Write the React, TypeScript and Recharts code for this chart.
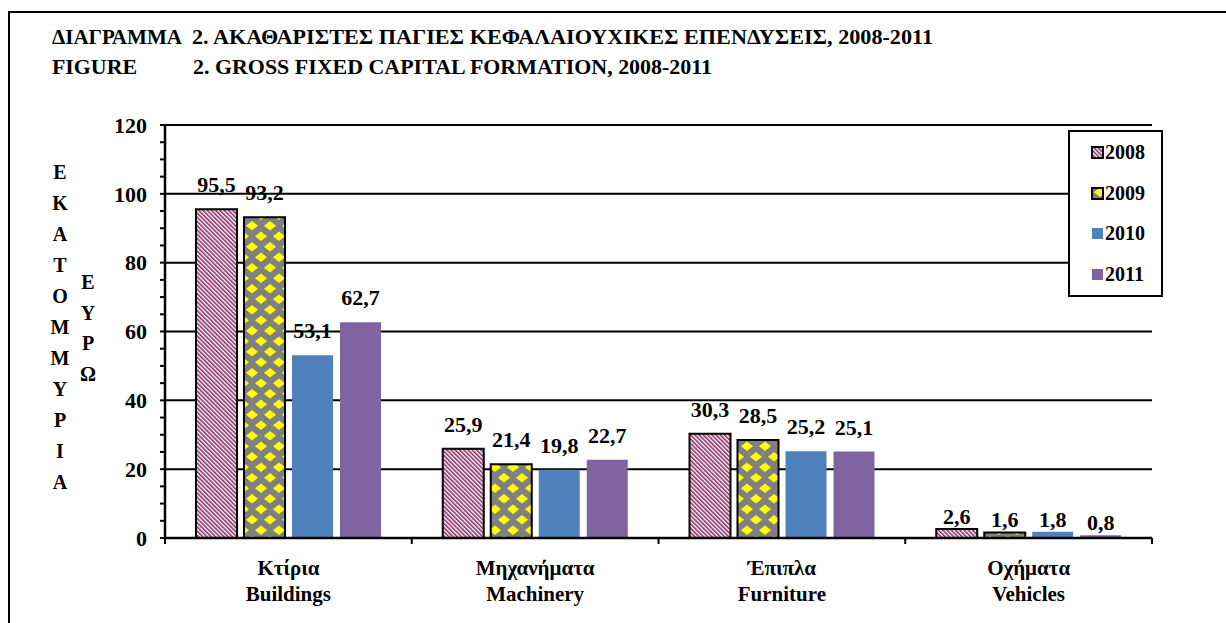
import React from 'react';
import {
  BarChart,
  Bar,
  XAxis,
  YAxis,
  CartesianGrid,
  Legend,
  LabelList,
} from 'recharts';

const FONT = "'Liberation Serif', Tinos, 'Times New Roman', 'DejaVu Serif', serif";

// chart data
const categoriesEl = ['Κτίρια', 'Μηχανήματα', 'Έπιπλα', 'Οχήματα'];
const categoriesEn = ['Buildings', 'Machinery', 'Furniture', 'Vehicles'];
const years = ['2008', '2009', '2010', '2011'];
const values2008 = [95.5, 25.9, 30.3, 2.6];
const values2009 = [93.2, 21.4, 28.5, 1.6];
const values2010 = [53.1, 19.8, 25.2, 1.8];
const values2011 = [62.7, 22.7, 25.1, 0.8];
const yTicks = [0, 5, 10, 15, 20, 25, 30, 35, 40, 45, 50, 55, 60, 65, 70, 75, 80, 85, 90, 95, 100, 105, 110, 115, 120];
const yLabelTicks = [0, 20, 40, 60, 80, 100, 120];
const gridValues = [20, 40, 60, 80, 100, 120];
const yTitleMain = 'ΕΚΑΤΟΜΜΥΡΙΑ';
const yTitleSub = 'ΕΥΡΩ';

const seriesFills = ['url(#pat2008)', 'url(#pat2009)', '#4F81BD', '#8064A2'];
const seriesStroke = ['#000', '#000', 'none', 'none'];

const data = categoriesEl.map((name, i) => ({
  name,
  y2008: values2008[i],
  y2009: values2009[i],
  y2010: values2010[i],
  y2011: values2011[i],
}));

const fmt = (v: any) => Number(v).toFixed(1).replace('.', ',');

// value label above a bar; the small Vehicles bars carry their labels closer
const ValueLabel = (props: any) => {
  const { x, y, width, value, index } = props;
  const gap = index === 3 ? 5 : 17;
  return (
    <text
      x={x + width / 2}
      y={y - gap}
      textAnchor="middle"
      fontFamily={FONT}
      fontWeight="bold"
      fontSize={22}
      fill="#000"
    >
      {fmt(value)}
    </text>
  );
};

const YTick = (props: any) => {
  const { x, y, payload } = props;
  if (!yLabelTicks.includes(payload.value)) return <g />;
  return (
    <text x={x} y={y} dy="0.35em" textAnchor="end" fontFamily={FONT} fontWeight="bold" fontSize={22} fill="#000">
      {payload.value}
    </text>
  );
};

const XTick = (props: any) => {
  const { x, y, payload, index, width, visibleTicksCount } = props;
  const band = width / visibleTicksCount;
  return (
    <g>
      <line x1={x - band / 2} x2={x - band / 2} y1={y} y2={y + 6} stroke="#000" strokeWidth={2} />
      {index === visibleTicksCount - 1 && (
        <line x1={x + band / 2} x2={x + band / 2} y1={y} y2={y + 6} stroke="#000" strokeWidth={2} />
      )}
      <text x={x} y={y + 37} textAnchor="middle" fontFamily={FONT} fontWeight="bold" fontSize={21} fill="#000">
        {payload.value}
      </text>
      <text x={x} y={y + 63} textAnchor="middle" fontFamily={FONT} fontWeight="bold" fontSize={21} fill="#000">
        {categoriesEn[index]}
      </text>
    </g>
  );
};

const LegendBox = () => (
  <div
    style={{
      width: 95,
      height: 167,
      boxSizing: 'border-box',
      border: '2px solid #000',
      background: '#fff',
      display: 'flex',
      flexDirection: 'column',
      justifyContent: 'space-around',
      paddingLeft: 21,
    }}
  >
    {years.map((yr, i) => (
      <div key={yr} style={{ display: 'flex', alignItems: 'center', height: 24 }}>
        <svg width={13} height={13} style={{ marginRight: 1 }}>
          <rect
            x={1}
            y={1}
            width={11}
            height={11}
            fill={seriesFills[i]}
            stroke={seriesStroke[i]}
            strokeWidth={2}
          />
        </svg>
        <span style={{ fontFamily: FONT, fontWeight: 'bold', fontSize: 20, color: '#000' }}>{yr}</span>
      </div>
    ))}
  </div>
);

const letterColumn = (word: string, left: number, top: number, step: number) => (
  <div style={{ position: 'absolute', left: left - 15, top, width: 30 }}>
    {word.split('').map((ch, i) => (
      <div
        key={i}
        style={{
          height: step,
          lineHeight: `${step}px`,
          textAlign: 'center',
          fontFamily: FONT,
          fontWeight: 'bold',
          fontSize: 20,
        }}
      >
        {ch}
      </div>
    ))}
  </div>
);

export default function App() {
  return (
    <div
      style={{
        position: 'absolute',
        left: 0,
        top: 0,
        width: 1226,
        height: 623,
        background: '#fff',
        overflow: 'hidden',
        fontFamily: FONT,
      }}
    >
      {/* outer frame */}
      <div
        style={{
          position: 'absolute',
          left: 8,
          top: 11,
          width: 1400,
          height: 800,
          border: '2px solid #000',
        }}
      />

      <svg width={1226} height={90} style={{ position: 'absolute', left: 0, top: 0 }}>
        <g fontFamily={FONT} fontWeight="bold" fontSize={20} fill="#000">
          <text x={52} y={44} textLength={130} lengthAdjust="spacingAndGlyphs">ΔΙΑΓΡΑΜΜΑ</text>
          <text x={192} y={44} textLength={741} lengthAdjust="spacingAndGlyphs">
            2. ΑΚΑΘΑΡΙΣΤΕΣ ΠΑΓΙΕΣ ΚΕΦΑΛΑΙΟΥΧΙΚΕΣ ΕΠΕΝΔΥΣΕΙΣ, 2008-2011
          </text>
          <text x={52} y={74} textLength={85} lengthAdjust="spacingAndGlyphs">FIGURE</text>
          <text x={193} y={74} textLength={519} lengthAdjust="spacingAndGlyphs">
            2. GROSS FIXED CAPITAL FORMATION, 2008-2011
          </text>
        </g>
      </svg>

      {letterColumn(yTitleMain, 60, 156.5, 31)}
      {letterColumn(yTitleSub, 88, 267, 30.5)}

      <div style={{ position: 'absolute', left: 0, top: 0 }}>
        <BarChart
          width={1226}
          height={623}
          data={data}
          margin={{ top: 125, right: 74, bottom: 0, left: 0 }}
          barSize={41}
          barGap={7}
        >
          <defs>
            <pattern
              id="pat2008"
              patternUnits="userSpaceOnUse"
              width={3}
              height={3}
              patternTransform="rotate(-45)"
            >
              <rect width={3} height={3} fill="#fff" />
              <rect width={1.6} height={3} fill="#8A2D68" />
            </pattern>
            <pattern id="pat2009" patternUnits="userSpaceOnUse" width={18} height={21}>
              <rect width={18} height={21} fill="#808080" />
              <polygon points="9,0.5 15,5.25 9,10 3,5.25" fill="#FFFF00" />
              <polygon points="0,11 6,15.75 0,20.5 -6,15.75" fill="#FFFF00" />
              <polygon points="18,11 24,15.75 18,20.5 12,15.75" fill="#FFFF00" />
            </pattern>
          </defs>
          <CartesianGrid
            horizontal
            vertical={false}
            horizontalValues={gridValues}
            stroke="#000"
            strokeWidth={2}
            strokeOpacity={1}
          />
          <XAxis
            dataKey="name"
            height={85}
            tickSize={0}
            tickMargin={0}
            tickLine={false}
            axisLine={{ stroke: '#000', strokeWidth: 2.5 }}
            tick={<XTick />}
            interval={0}
          />
          <YAxis
            width={165}
            domain={[0, 120]}
            ticks={yTicks}
            interval={0}
            tickSize={5}
            tickMargin={13}
            tickLine={{ stroke: '#000', strokeWidth: 2 }}
            axisLine={{ stroke: '#000', strokeWidth: 2.5 }}
            tick={<YTick />}
          />
          <YAxis
            yAxisId="frame"
            orientation="right"
            width={0}
            domain={[0, 120]}
            tick={false}
            tickLine={false}
            axisLine={{ stroke: '#000', strokeWidth: 2 }}
          />
          <Legend
            layout="vertical"
            align="center"
            verticalAlign="middle"
            wrapperStyle={{ left: 1068, top: 130, width: 95, height: 167 }}
            content={() => <LegendBox />}
          />
          {years.map((yr, i) => (
            <Bar
              key={yr}
              dataKey={`y${yr}`}
              name={yr}
              fill={seriesFills[i]}
              stroke={seriesStroke[i]}
              strokeWidth={seriesStroke[i] === 'none' ? 0 : 2}
              isAnimationActive={false}
            >
              <LabelList dataKey={`y${yr}`} content={<ValueLabel />} />
            </Bar>
          ))}
        </BarChart>
      </div>
    </div>
  );
}
